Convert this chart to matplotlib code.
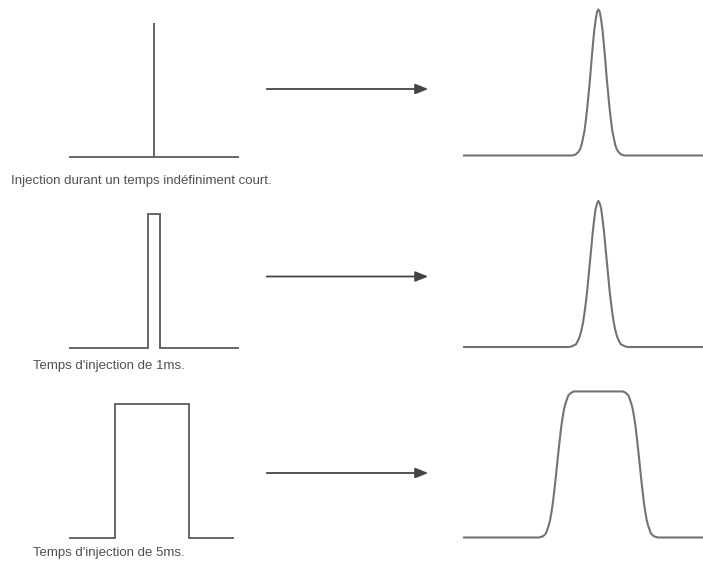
import matplotlib
matplotlib.use("Agg")
import matplotlib.pyplot as plt
from matplotlib.patches import FancyArrowPatch
import numpy as np

plt.rcParams["font.family"] = ["Liberation Sans", "DejaVu Sans"]

W, H = 703, 563          # taille de la figure en pixels
line_col = "#666666"
text_col = "#505050"

# --- données (temps en ms, hauteur relative) ---
captions = ["Injection durant un temps indéfiniment court.",
            "Temps d'injection de 1ms.",
            "Temps d'injection de 5ms."]

# signal injecté (gauche)
inj_start = [6.0, 5.57, 3.2]
inj_end = [6.0, 6.43, 8.5]
inj_height = [1.0, 1.0, 1.0]
inj_span = [12.0, 12.0, 11.65]

# pics détectés (droite) : demi-profil (écart au centre en ms, hauteur)
peak_center = [9.6, 9.6, 9.6]
half1_d = [0.0, 0.1, 0.2, 0.3, 0.4, 0.5, 0.6, 0.7, 0.8, 0.9, 1.0,
           1.1, 1.2, 1.3, 1.4, 1.5, 1.6, 1.7, 1.8, 1.9]
half1_h = [1.09, 1.07, 1.01, 0.93, 0.82, 0.70, 0.57, 0.46, 0.35, 0.26, 0.18,
           0.13, 0.08, 0.05, 0.03, 0.02, 0.01, 0.005, 0.002, 0.0]
half2_d = [0.0, 0.1, 0.2, 0.3, 0.4, 0.5, 0.6, 0.7, 0.8, 0.9, 1.0,
           1.1, 1.2, 1.3, 1.4, 1.5, 1.6, 1.7, 1.8, 1.9, 2.0, 2.1]
half2_h = [1.09, 1.07, 1.03, 0.95, 0.86, 0.75, 0.64, 0.53, 0.42, 0.33, 0.25,
           0.18, 0.13, 0.09, 0.06, 0.04, 0.02, 0.015, 0.01, 0.005, 0.002, 0.0]

# pic de 5 ms : plateau, flancs (écart au point à mi-hauteur en ms, hauteur)
plateau_halfwidth = 2.95
edge_d = [-1.3, -1.2, -1.1, -1.0, -0.9, -0.8, -0.7, -0.6, -0.5, -0.4, -0.3, -0.2, -0.1,
          0.0, 0.1, 0.2, 0.3, 0.4, 0.5, 0.6, 0.7, 0.8, 0.9, 1.0, 1.1, 1.2, 1.3]
edge_h = [0.0, 0.003, 0.006, 0.01, 0.02, 0.03, 0.06, 0.09, 0.13, 0.19, 0.26, 0.35, 0.445,
          0.545, 0.645, 0.74, 0.83, 0.90, 0.96, 1.00, 1.03, 1.06, 1.07, 1.08, 1.085, 1.09, 1.09]
right_span = 17.0


def sym_peak(c, d, h):
    d, h = np.asarray(d), np.asarray(h)
    t = np.concatenate([[0], c - d[::-1], c + d[1:], [right_span]])
    y = np.concatenate([[0], h[::-1], h[1:], [0]])
    return t, y


def plateau_peak(c, hw, d, h):
    d, h = np.asarray(d), np.asarray(h)
    t = np.concatenate([[0], c - hw + d, c + hw - d[::-1], [right_span]])
    y = np.concatenate([[0], h, h[::-1], [0]])
    return t, y


peaks = [sym_peak(peak_center[0], half1_d, half1_h),
         sym_peak(peak_center[1], half2_d, half2_h),
         plateau_peak(peak_center[2], plateau_halfwidth, edge_d, edge_h)]

# --- mise en page (pixels) ---
px_per_ms = 14.0
px_per_unit = 134.0
left_x0, right_x0 = 70, 464
left_base = [157, 348, 538]
right_base = [155.5, 347, 537.5]
arrow_y = [89, 276.5, 473]
caption_xy = [(11, 181), (33, 366), (33, 553)]

fig = plt.figure(figsize=(W / 100, H / 100), dpi=100)
fig.patch.set_facecolor("white")


def panel(x0, base, span):
    # axe à l'échelle px_per_ms px / ms et px_per_unit px / unité
    pad = 0.1
    ax = fig.add_axes([x0 / W,
                       (H - base - pad * px_per_unit) / H,
                       span * px_per_ms / W,
                       (1.2 + 2 * pad) * px_per_unit / H])
    ax.set_xlim(0, span)
    ax.set_ylim(-pad, 1.2 + pad)
    ax.axis("off")
    return ax


for i in range(3):
    ax = panel(left_x0, left_base[i], 12.0)
    s, e, h = inj_start[i], inj_end[i], inj_height[i]
    ax.plot([0, s, s, e, e, inj_span[i]], [0, 0, h, h, 0, 0],
            color=line_col, lw=1.4, clip_on=False, solid_joinstyle="miter")

    axr = panel(right_x0, right_base[i], right_span)
    axr.plot(peaks[i][0], peaks[i][1], color="#737373", lw=1.5, clip_on=False)

    fig.text(caption_xy[i][0] / W, 1 - caption_xy[i][1] / H, captions[i],
             fontsize=9.5, color=text_col, ha="left", va="center")

    fig.patches.append(FancyArrowPatch(
        (264 / W, 1 - arrow_y[i] / H), (431 / W, 1 - arrow_y[i] / H),
        transform=fig.transFigure, arrowstyle="-|>,head_length=0.55,head_width=0.22",
        mutation_scale=14, color="#444444", lw=1.3))

fig.savefig("out.png", dpi=100, facecolor="white")
